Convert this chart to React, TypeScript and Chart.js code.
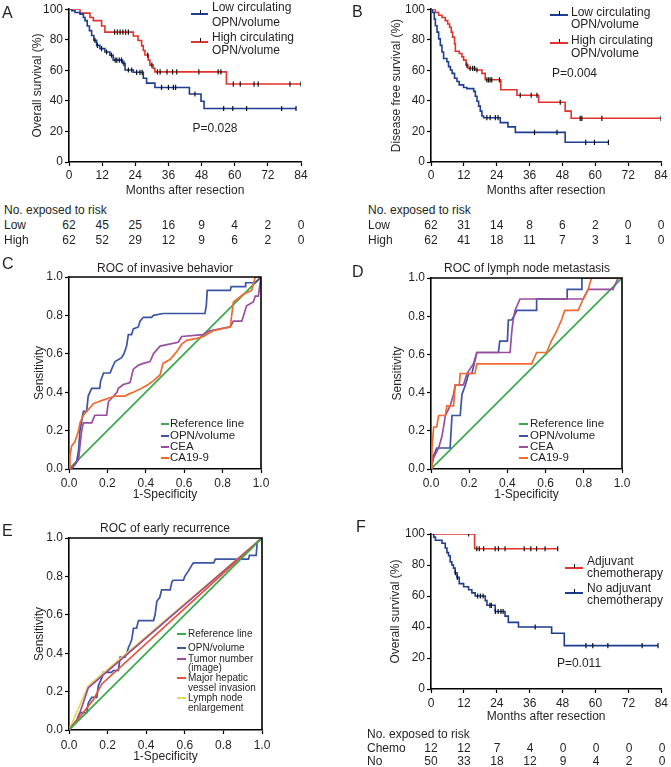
import React, { useEffect, useRef } from 'react';
import { Chart, registerables } from 'chart.js';
Chart.register(...registerables);

const FONT = '"Liberation Sans", Arial, Helvetica, sans-serif';
const INK = '#231f20';

// ---------- colours ----------
const KM_BLUE = '#1d3d92';
const KM_RED = '#e3312b';
const ROC_GREEN = '#3ba84b';
const ROC_BLUE = '#3b54a4';
const ROC_PURPLE = '#9a4c9e';
const ROC_ORANGE = '#f26a2d';
const E_RED = '#e5533a';
const E_YELLOW = '#e4da55';

// ---------- Panel A: overall survival by OPN/volume ----------
const aLowTimes = [0, 1, 2.2, 4, 5.2, 5.8, 6.6, 7.4, 8.2, 9, 10, 11.2, 13, 14.8, 16, 19.4, 20.3, 23.3, 26.9, 28.1, 31.1, 43.6, 47.8, 48.9, 82.2];
const aLowSurv = [100, 99, 97.8, 96.8, 94.6, 92.5, 89, 86, 82.8, 79.6, 76.3, 74.2, 72, 69.9, 66.7, 64.5, 60.2, 58.7, 54.8, 51.6, 48.8, 44.5, 39.8, 35, 35];
const aLowCensor = [9.4, 10.3, 11.8, 13.6, 15.4, 16.7, 17.3, 18.2, 19, 19.9, 21.5, 22.7, 24.5, 25.7, 26.5, 33.5, 36, 37.8, 38.6, 45.6, 56, 59.3, 64.3, 77, 82.2];
const aHighTimes = [0, 4, 7.6, 8.8, 11.8, 13, 23.3, 25, 26.3, 26.9, 27.5, 28.7, 29.3, 30.5, 31.1, 57, 84];
const aHighSurv = [100, 97.4, 94.6, 92.5, 89, 85, 82.5, 79.5, 76, 73, 70, 66.7, 63.4, 61.3, 59, 51, 51];
const aHighCensor = [16.5, 17.5, 18.5, 19.5, 20.5, 21.5, 28.5, 30, 32, 33, 35.5, 37.5, 39, 47, 54, 55, 59.5, 62, 67, 68.5, 80, 84];

// ---------- Panel B: disease free survival ----------
const bLowTimes = [0, 0.6, 1.2, 1.6, 2.2, 2.8, 3.4, 4, 4.6, 5.8, 6.4, 7.1, 7.7, 8.6, 9.5, 10.3, 11.9, 13.1, 15.6, 16.2, 16.8, 17.4, 18, 18.6, 19.2, 25.3, 28.1, 30.8, 49, 64.8];
const bLowSurv = [100, 97.8, 93.5, 89.2, 85, 80.6, 76.3, 72, 67.7, 65.6, 62.4, 60.2, 58, 54.8, 52.7, 50.5, 48.8, 48, 46.2, 43, 39.8, 36.6, 33.3, 30.1, 29, 25.8, 23, 19.4, 12.9, 12.9];
const bLowCensor = [20.4, 21.6, 23.5, 24.5, 37.8, 46, 56.5, 59.7, 64.8];
const bHighTimes = [0, 1.6, 2.8, 4, 5.2, 6.1, 6.8, 7.4, 7.9, 8.6, 8.9, 10.3, 11.3, 11.9, 12.8, 13.5, 16.2, 18.6, 19.8, 25.5, 31.4, 39.3, 49, 51.2, 84];
const bHighSurv = [100, 97.8, 96, 94.6, 92.5, 90.3, 88.2, 85, 81.7, 77.4, 72.5, 71, 68.8, 66.7, 63.4, 61.3, 60.2, 58, 53.8, 47.3, 43.7, 39.1, 33.3, 28.6, 28.6];
const bHighCensor = [13.1, 14.3, 15.2, 15.9, 16.8, 20.4, 21, 21.6, 22.2, 25, 32.6, 36.6, 38.7, 47.2, 54.5, 55.1, 62.4, 84];

// ---------- Panel F: adjuvant chemotherapy ----------
const fChemoTimes = [0, 15.9, 46.2];
const fChemoSurv = [100, 90.5, 90.5];
const fChemoCensor = [13.7, 16.7, 17.6, 19.2, 23.4, 24.6, 27, 34, 36.4, 38.5, 41.6, 46.2];
const fNoTimes = [0, 1, 1.6, 4, 5.2, 5.8, 6.4, 7, 7.6, 8.2, 8.8, 9.5, 10.3, 11.9, 13.7, 14.9, 16.1, 19.8, 20.4, 23.4, 27, 28.2, 31.9, 44, 48.6, 82.8];
const fNoSurv = [100, 98, 96, 94, 91, 88, 86, 82, 80, 78, 75, 72, 68, 66, 64, 62, 60, 57, 54, 50, 47, 43, 40, 36, 28, 28];
const fNoCensor = [8.9, 9.6, 17, 18, 19, 21.5, 22, 23.5, 24.5, 25.5, 26.3, 38, 56.5, 59, 64.5, 77, 82.8];

// ---------- risk tables ----------
const riskMonths = [0, 12, 24, 36, 48, 60, 72, 84];
const riskALow = [62, 45, 25, 16, 9, 4, 2, 0];
const riskAHigh = [62, 52, 29, 12, 9, 6, 2, 0];
const riskBLow = [62, 31, 14, 8, 6, 2, 0, 0];
const riskBHigh = [62, 41, 18, 11, 7, 3, 1, 0];
const riskFChemo = [12, 12, 7, 4, 0, 0, 0, 0];
const riskFNo = [50, 33, 18, 12, 9, 4, 2, 0];

// ---------- Panel C: ROC of invasive behavior ----------
const refFpr = [0, 1];
const refTpr = [0, 1];
const cOpnFpr = [0, 0.014, 0.04, 0.05, 0.057, 0.066, 0.075, 0.092, 0.1, 0.118, 0.16, 0.165, 0.18, 0.214, 0.222, 0.24, 0.274, 0.286, 0.3, 0.309, 0.326, 0.335, 0.361, 0.37, 0.387, 0.43, 0.44, 0.49, 0.708, 0.715, 0.72, 0.84, 0.845, 0.917, 0.92, 0.97, 1.0];
const cOpnTpr = [0, 0, 0.04, 0.1, 0.2, 0.25, 0.3, 0.3, 0.38, 0.42, 0.42, 0.46, 0.5, 0.5, 0.52, 0.56, 0.58, 0.6, 0.64, 0.7, 0.7, 0.73, 0.74, 0.77, 0.79, 0.79, 0.8, 0.81, 0.81, 0.85, 0.93, 0.93, 0.95, 0.95, 0.97, 0.97, 1.0];
const cCeaFpr = [0, 0.03, 0.05, 0.057, 0.066, 0.075, 0.118, 0.135, 0.196, 0.205, 0.25, 0.257, 0.283, 0.318, 0.335, 0.361, 0.387, 0.422, 0.44, 0.474, 0.569, 0.587, 0.7, 0.734, 0.84, 0.856, 0.9, 0.925, 0.96, 0.97, 0.986, 1.0];
const cCeaTpr = [0, 0.02, 0.05, 0.12, 0.2, 0.24, 0.24, 0.28, 0.28, 0.35, 0.4, 0.42, 0.44, 0.45, 0.52, 0.54, 0.55, 0.56, 0.6, 0.64, 0.66, 0.69, 0.7, 0.72, 0.74, 0.77, 0.77, 0.85, 0.87, 0.9, 0.9, 1.0];
const cCaFpr = [0, 0.005, 0.014, 0.03, 0.05, 0.057, 0.075, 0.092, 0.11, 0.127, 0.153, 0.18, 0.24, 0.29, 0.31, 0.335, 0.378, 0.413, 0.44, 0.474, 0.49, 0.526, 0.56, 0.587, 0.613, 0.665, 0.7, 0.752, 0.84, 0.856, 0.908, 0.951, 0.97, 1.0];
const cCaTpr = [0, 0.07, 0.12, 0.14, 0.2, 0.24, 0.28, 0.3, 0.32, 0.34, 0.35, 0.36, 0.38, 0.38, 0.39, 0.4, 0.42, 0.44, 0.46, 0.49, 0.55, 0.57, 0.61, 0.65, 0.67, 0.68, 0.69, 0.72, 0.74, 0.87, 0.91, 0.93, 1.0, 1.0];

// ---------- Panel D: ROC of lymph node metastasis ----------
const dOpnFpr = [0, 0.01, 0.03, 0.1, 0.11, 0.153, 0.162, 0.18, 0.197, 0.214, 0.24, 0.353, 0.36, 0.4, 0.405, 0.423, 0.45, 0.553, 0.553, 0.713, 0.713, 0.79, 0.79, 1.0];
const dOpnTpr = [0, 0.06, 0.11, 0.11, 0.28, 0.28, 0.39, 0.44, 0.5, 0.5, 0.61, 0.61, 0.67, 0.67, 0.78, 0.78, 0.83, 0.83, 0.89, 0.89, 0.94, 0.94, 1.0, 1.0];
const dCeaFpr = [0, 0.014, 0.04, 0.057, 0.066, 0.075, 0.1, 0.118, 0.127, 0.17, 0.188, 0.222, 0.24, 0.414, 0.423, 0.43, 0.44, 0.466, 0.797, 0.823, 0.953, 0.98, 1.0];
const dCeaTpr = [0, 0.06, 0.11, 0.17, 0.22, 0.28, 0.33, 0.39, 0.44, 0.44, 0.5, 0.55, 0.61, 0.61, 0.72, 0.78, 0.83, 0.89, 0.89, 0.94, 0.94, 1.0, 1.0];
const dCaFpr = [0, 0.005, 0.014, 0.03, 0.04, 0.075, 0.083, 0.118, 0.127, 0.148, 0.153, 0.23, 0.24, 0.527, 0.553, 0.605, 0.63, 0.657, 0.683, 0.7, 0.77, 0.797, 0.823, 0.84, 1.0];
const dCaTpr = [0, 0.11, 0.22, 0.22, 0.28, 0.28, 0.33, 0.33, 0.44, 0.44, 0.5, 0.5, 0.55, 0.55, 0.61, 0.61, 0.67, 0.72, 0.78, 0.83, 0.83, 0.89, 0.94, 1.0, 1.0];

// ---------- Panel E: ROC of early recurrence ----------
const eOpnFpr = [0, 0.014, 0.04, 0.057, 0.092, 0.1, 0.118, 0.144, 0.152, 0.16, 0.17, 0.178, 0.22, 0.23, 0.256, 0.265, 0.29, 0.3, 0.308, 0.317, 0.325, 0.334, 0.35, 0.36, 0.438, 0.446, 0.455, 0.47, 0.48, 0.524, 0.533, 0.54, 0.593, 0.6, 0.62, 0.637, 0.645, 0.75, 0.758, 0.93, 0.935, 0.97, 0.975, 1.0];
const eOpnTpr = [0, 0.02, 0.05, 0.09, 0.09, 0.14, 0.17, 0.17, 0.23, 0.25, 0.27, 0.3, 0.3, 0.31, 0.31, 0.38, 0.38, 0.4, 0.43, 0.45, 0.47, 0.53, 0.53, 0.57, 0.57, 0.6, 0.67, 0.69, 0.73, 0.73, 0.77, 0.78, 0.78, 0.8, 0.83, 0.86, 0.87, 0.87, 0.89, 0.89, 0.91, 0.91, 0.98, 1.0];
const eTumorFpr = [0, 0.04, 0.06, 0.1, 1.0];
const eTumorTpr = [0, 0.05, 0.1, 0.22, 1.0];
const eVesselFpr = [0, 0.057, 0.126, 0.17, 1.0];
const eVesselTpr = [0, 0.07, 0.157, 0.24, 1.0];
const eLymphFpr = [0, 0.1, 1.0];
const eLymphTpr = [0, 0.23, 1.0];

// ---------- helpers ----------
const pts = (xs: number[], ys: number[]) => xs.map((x, i) => ({ x, y: ys[i] }));
const stepAt = (ts: number[], ss: number[], t: number) => {
  let v = ss[0];
  for (let i = 0; i < ts.length; i++) if (ts[i] <= t) v = ss[i];
  return v;
};

const framePlugin = {
  id: 'frame',
  afterDatasetsDraw(chart: any, _a: any, opts: any) {
    if (!opts || !opts.on) return;
    const { ctx, chartArea: a } = chart;
    ctx.save();
    ctx.strokeStyle = '#000';
    ctx.lineWidth = 1.6;
    ctx.beginPath();
    ctx.moveTo(a.left, a.top);
    ctx.lineTo(a.right, a.top);
    ctx.lineTo(a.right, a.bottom);
    ctx.stroke();
    ctx.restore();
  },
};

type Layout = { w: number; h: number; yW: number; xH: number; top: number; right: number; yTitlePad: number; xTitlePad: number; xTickPad: number };

function axis(kind: 'x' | 'y', L: Layout, min: number, max: number, step: number, title: string, fmt?: (v: number) => string) {
  const isX = kind === 'x';
  return {
    type: 'linear',
    position: isX ? 'bottom' : 'left',
    min,
    max,
    grid: { drawOnChartArea: false, drawTicks: true, tickLength: 4, tickColor: '#000', tickWidth: 1.2 },
    border: { display: true, color: '#000', width: 1.6 },
    ticks: {
      stepSize: step,
      autoSkip: false,
      maxRotation: 0,
      padding: isX ? L.xTickPad : 2,
      color: INK,
      font: { size: 12, family: FONT },
      callback: fmt ? (v: any) => fmt(Number(v)) : (v: any) => String(Math.round(Number(v))),
    },
    title: {
      display: true,
      text: title,
      color: INK,
      font: { size: 12, family: FONT },
      padding: isX ? { top: 0, bottom: L.xTitlePad } : { top: L.yTitlePad, bottom: 0 },
    },
    afterFit: (s: any) => {
      if (isX) s.height = L.xH;
      else s.width = L.yW;
    },
  };
}

function kmConfig(L: Layout, yTitle: string, curves: { t: number[]; s: number[]; c: number[]; color: string }[]) {
  const datasets: any[] = [];
  curves.forEach((cv) => {
    datasets.push({
      data: pts(cv.t, cv.s),
      showLine: true,
      stepped: true,
      borderColor: cv.color,
      borderWidth: 1.6,
      pointRadius: 0,
      fill: false,
      order: 2,
    });
    datasets.push({
      data: cv.c.map((t) => ({ x: t, y: stepAt(cv.t, cv.s, t) })),
      showLine: false,
      pointStyle: 'line',
      pointRotation: 90,
      pointRadius: 2.6,
      pointBorderColor: '#111',
      borderColor: '#111',
      pointBorderWidth: 1.2,
      order: 1,
    });
  });
  return {
    type: 'scatter',
    data: { datasets },
    options: {
      responsive: false,
      animation: false,
      events: [],
      layout: { padding: { left: 0, top: L.top, right: L.right, bottom: 0 } },
      plugins: { legend: { display: false }, tooltip: { enabled: false }, frame: { on: false } },
      scales: {
        x: axis('x', L, 0, 84, 12, 'Months after resection'),
        y: axis('y', L, 0, 100, 20, yTitle),
      },
    },
    plugins: [framePlugin],
  };
}

function rocConfig(L: Layout, curves: { x: number[]; y: number[]; color: string }[]) {
  const datasets = curves.map((cv) => ({
    data: pts(cv.x, cv.y),
    showLine: true,
    borderColor: cv.color,
    borderWidth: 1.7,
    pointRadius: 0,
    tension: 0,
    fill: false,
  }));
  const f = (v: number) => v.toFixed(1);
  return {
    type: 'scatter',
    data: { datasets },
    options: {
      responsive: false,
      animation: false,
      events: [],
      layout: { padding: { left: 0, top: L.top, right: L.right, bottom: 0 } },
      plugins: { legend: { display: false }, tooltip: { enabled: false }, frame: { on: true } },
      scales: {
        x: axis('x', L, 0, 1, 0.2, '1-Specificity', f),
        y: axis('y', L, 0, 1, 0.2, 'Sensitivity', f),
      },
    },
    plugins: [framePlugin],
  };
}

function ChartBox({ left, top, L, config }: { left: number; top: number; L: Layout; config: any }) {
  const ref = useRef<HTMLCanvasElement>(null);
  useEffect(() => {
    const c = new Chart(ref.current as HTMLCanvasElement, config);
    return () => c.destroy();
  }, []);
  return <canvas ref={ref} width={L.w} height={L.h} style={{ position: 'absolute', left, top, width: L.w, height: L.h }} />;
}

function Txt({ x, y, size = 12, align = 'left', children, color = INK }: any) {
  const tx = align === 'center' ? '-50%' : align === 'right' ? '-100%' : '0';
  return (
    <div
      style={{
        position: 'absolute',
        left: x,
        top: y,
        transform: `translate(${tx}, -50%)`,
        fontSize: size,
        lineHeight: 1,
        whiteSpace: 'nowrap',
        fontFamily: FONT,
        color,
        zIndex: 2,
      }}
    >
      {children}
    </div>
  );
}

function Swatch({ x1, x2, y, color, tick = false }: any) {
  const top = Math.round(y) - 1;
  return (
    <>
      <div style={{ position: 'absolute', left: Math.round(x1), top, width: Math.round(x2 - x1), height: 2, background: color, zIndex: 2 }} />
      {tick ? <div style={{ position: 'absolute', left: Math.round((x1 + x2) / 2), top: top - 3, width: 1, height: 4, background: '#111', zIndex: 3 }} /> : null}
    </>
  );
}

function RiskTable({ x0, plotL, plotW, yHead, rows }: any) {
  return (
    <>
      <Txt x={x0} y={yHead}>No. exposed to risk</Txt>
      {rows.map((r: any, i: number) => (
        <React.Fragment key={i}>
          <Txt x={x0} y={r.y}>{r.label}</Txt>
          {r.values.map((v: number, j: number) => (
            <Txt key={j} x={plotL + (riskMonths[j] / 84) * plotW} y={r.y} align="center">{v}</Txt>
          ))}
        </React.Fragment>
      ))}
    </>
  );
}

// canvas layouts (plot areas fixed)
const LA: Layout = { w: 335, h: 200, yW: 69, xH: 38, top: 7, right: 34, yTitlePad: 30, xTitlePad: 2, xTickPad: 2 };
const LB: Layout = { w: 336, h: 200, yW: 96, xH: 38, top: 7, right: 10, yTitlePad: 54, xTitlePad: 2, xTickPad: 2 };
const LC: Layout = { w: 335, h: 260, yW: 69, xH: 36, top: 32, right: 74, yTitlePad: 32, xTitlePad: 3, xTickPad: 3 };
const LD: Layout = { w: 336, h: 260, yW: 96, xH: 36, top: 33, right: 49, yTitlePad: 55, xTitlePad: 3, xTickPad: 3 };
const LE: Layout = { w: 335, h: 267, yW: 69, xH: 37, top: 38, right: 73, yTitlePad: 32, xTitlePad: 3, xTickPad: 4 };
const LF: Layout = { w: 336, h: 225, yW: 96, xH: 36, top: 34, right: 9, yTitlePad: 53, xTitlePad: 1, xTickPad: 3 };

export default function App() {
  const cfgA = kmConfig(LA, 'Overall survival (%)', [
    { t: aLowTimes, s: aLowSurv, c: aLowCensor, color: KM_BLUE },
    { t: aHighTimes, s: aHighSurv, c: aHighCensor, color: KM_RED },
  ]);
  const cfgB = kmConfig(LB, 'Disease free survival (%)', [
    { t: bLowTimes, s: bLowSurv, c: bLowCensor, color: KM_BLUE },
    { t: bHighTimes, s: bHighSurv, c: bHighCensor, color: KM_RED },
  ]);
  const cfgF = kmConfig(LF, 'Overall survival (%)', [
    { t: fNoTimes, s: fNoSurv, c: fNoCensor, color: KM_BLUE },
    { t: fChemoTimes, s: fChemoSurv, c: fChemoCensor, color: KM_RED },
  ]);
  const cfgC = rocConfig(LC, [
    { x: cCaFpr, y: cCaTpr, color: ROC_ORANGE },
    { x: cCeaFpr, y: cCeaTpr, color: ROC_PURPLE },
    { x: cOpnFpr, y: cOpnTpr, color: ROC_BLUE },
    { x: refFpr, y: refTpr, color: ROC_GREEN },
  ]);
  const cfgD = rocConfig(LD, [
    { x: dCaFpr, y: dCaTpr, color: ROC_ORANGE },
    { x: dCeaFpr, y: dCeaTpr, color: ROC_PURPLE },
    { x: dOpnFpr, y: dOpnTpr, color: ROC_BLUE },
    { x: refFpr, y: refTpr, color: ROC_GREEN },
  ]);
  const cfgE = rocConfig(LE, [
    { x: refFpr, y: refTpr, color: ROC_GREEN },
    { x: eVesselFpr, y: eVesselTpr, color: E_RED },
    { x: eTumorFpr, y: eTumorTpr, color: ROC_PURPLE },
    { x: eLymphFpr, y: eLymphTpr, color: E_YELLOW },
    { x: eOpnFpr, y: eOpnTpr, color: ROC_BLUE },
  ]);

  return (
    <div style={{ position: 'absolute', left: 0, top: 0, width: 671, height: 767, background: '#fff', overflow: 'hidden', fontFamily: FONT }}>
      <ChartBox left={0} top={0} L={LA} config={cfgA} />
      <ChartBox left={335} top={0} L={LB} config={cfgB} />
      <ChartBox left={0} top={245} L={LC} config={cfgC} />
      <ChartBox left={335} top={245} L={LD} config={cfgD} />
      <ChartBox left={0} top={500} L={LE} config={cfgE} />
      <ChartBox left={335} top={500} L={LF} config={cfgF} />

      {/* panel letters */}
      <Txt x={2} y={13} size={16}>A</Txt>
      <Txt x={352} y={12} size={16}>B</Txt>
      <Txt x={2} y={264} size={16}>C</Txt>
      <Txt x={352} y={272} size={16}>D</Txt>
      <Txt x={2} y={531} size={16}>E</Txt>
      <Txt x={356} y={527} size={16}>F</Txt>

      {/* Panel A legend */}
      <Swatch x1={191} x2={208} y={14} color={KM_BLUE} tick />
      <Txt x={212} y={7}>Low circulating</Txt>
      <Txt x={212} y={21.5}>OPN/volume</Txt>
      <Swatch x1={191} x2={208} y={42} color={KM_RED} tick />
      <Txt x={212} y={36.5}>High circulating</Txt>
      <Txt x={212} y={50}>OPN/volume</Txt>
      <Txt x={215} y={128} align="center">P=0.028</Txt>

      {/* Panel B legend */}
      <Swatch x1={550} x2={568} y={15} color={KM_BLUE} tick />
      <Txt x={571} y={11.5}>Low circulating</Txt>
      <Txt x={571} y={24}>OPN/volume</Txt>
      <Swatch x1={550} x2={568} y={43} color={KM_RED} tick />
      <Txt x={571} y={40}>High circulating</Txt>
      <Txt x={571} y={52.5}>OPN/volume</Txt>
      <Txt x={552} y={73}>P=0.004</Txt>

      {/* risk tables */}
      <RiskTable x0={4} plotL={69} plotW={232} yHead={210} rows={[{ label: 'Low', y: 225, values: riskALow }, { label: 'High', y: 239.5, values: riskAHigh }]} />
      <RiskTable x0={368} plotL={431} plotW={230} yHead={210} rows={[{ label: 'Low', y: 225, values: riskBLow }, { label: 'High', y: 239.5, values: riskBHigh }]} />
      <RiskTable x0={367} plotL={431} plotW={231} yHead={734} rows={[{ label: 'Chemo', y: 748, values: riskFChemo }, { label: 'No', y: 761, values: riskFNo }]} />

      {/* ROC titles */}
      <Txt x={165} y={268} align="center">ROC of invasive behavior</Txt>
      <Txt x={527} y={268} align="center">ROC of lymph node metastasis</Txt>
      <Txt x={165} y={528} align="center">ROC of early recurrence</Txt>

      {/* Panel C legend */}
      <Swatch x1={161} x2={169} y={424} color={ROC_GREEN} />
      <Txt x={170} y={424} size={11.5}>Reference line</Txt>
      <Swatch x1={161} x2={169} y={436} color={ROC_BLUE} />
      <Txt x={170} y={436} size={11.5}>OPN/volume</Txt>
      <Swatch x1={161} x2={169} y={447} color={ROC_PURPLE} />
      <Txt x={170} y={447} size={11.5}>CEA</Txt>
      <Swatch x1={161} x2={169} y={458} color={ROC_ORANGE} />
      <Txt x={170} y={458} size={11.5}>CA19-9</Txt>

      {/* Panel D legend */}
      <Swatch x1={519} x2={528} y={424} color={ROC_GREEN} />
      <Txt x={530} y={424} size={11.5}>Reference line</Txt>
      <Swatch x1={519} x2={528} y={436} color={ROC_BLUE} />
      <Txt x={530} y={436} size={11.5}>OPN/volume</Txt>
      <Swatch x1={519} x2={528} y={447} color={ROC_PURPLE} />
      <Txt x={530} y={447} size={11.5}>CEA</Txt>
      <Swatch x1={519} x2={528} y={458} color={ROC_ORANGE} />
      <Txt x={530} y={458} size={11.5}>CA19-9</Txt>

      {/* Panel E legend */}
      <Swatch x1={177} x2={186} y={634} color={ROC_GREEN} />
      <Txt x={188} y={634} size={10}>Reference line</Txt>
      <Swatch x1={177} x2={186} y={648} color={ROC_BLUE} />
      <Txt x={188} y={647.5} size={10}>OPN/volume</Txt>
      <Swatch x1={177} x2={186} y={659} color={ROC_PURPLE} />
      <Txt x={188} y={658.5} size={10}>Tumor number</Txt>
      <Txt x={188} y={668} size={10}>(image)</Txt>
      <Swatch x1={177} x2={186} y={678} color={E_RED} />
      <Txt x={188} y={678} size={10}>Major hepatic</Txt>
      <Txt x={188} y={688} size={10}>vessel invasion</Txt>
      <Swatch x1={177} x2={186} y={698} color={E_YELLOW} />
      <Txt x={188} y={697.5} size={10}>Lymph node</Txt>
      <Txt x={188} y={707.5} size={10}>enlargement</Txt>

      {/* Panel F legend */}
      <Swatch x1={565} x2={583} y={568} color={KM_RED} tick />
      <Txt x={587} y={561}>Adjuvant</Txt>
      <Txt x={587} y={573}>chemotherapy</Txt>
      <Swatch x1={565} x2={583} y={593} color={KM_BLUE} tick />
      <Txt x={587} y={588}>No adjuvant</Txt>
      <Txt x={587} y={600}>chemotherapy</Txt>
      <Txt x={579} y={663} align="center">P=0.011</Txt>
    </div>
  );
}
